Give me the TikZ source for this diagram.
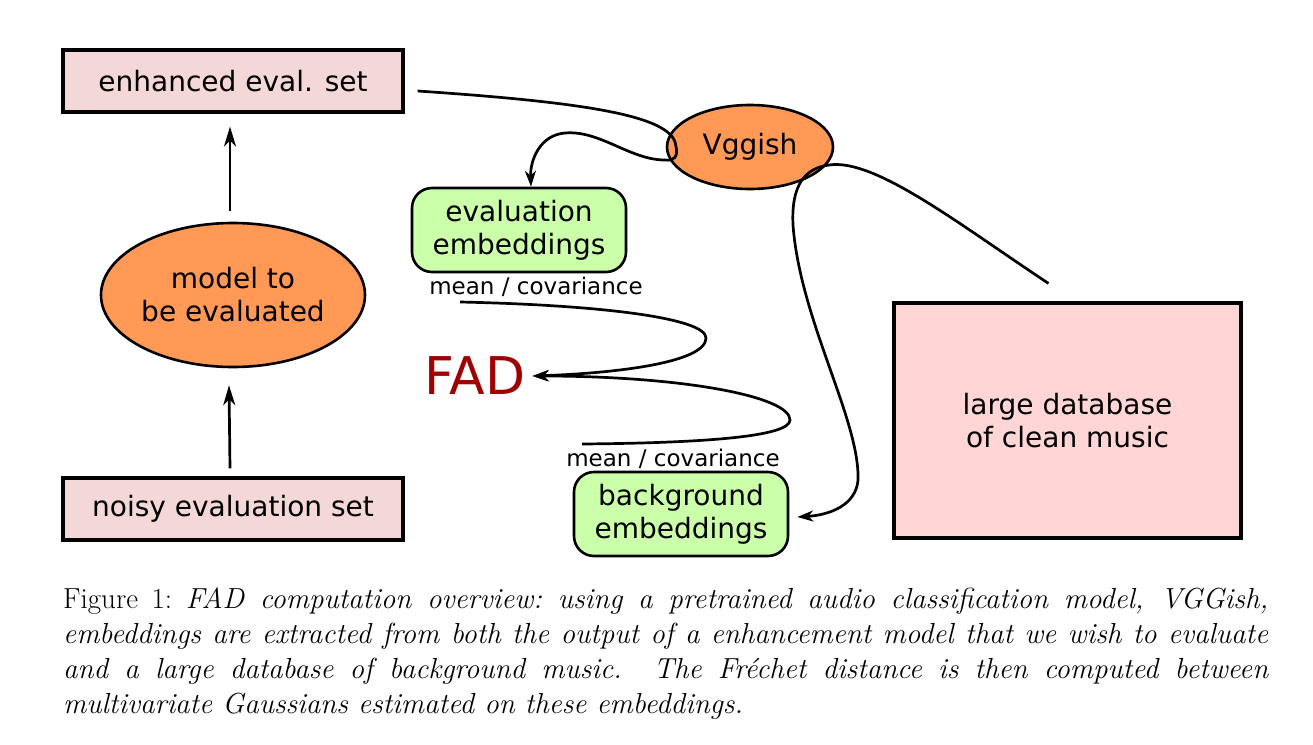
\documentclass[tikz,border=0pt]{standalone}
\usepackage{fontspec}
\newfontfamily\dv{DejaVu Sans}
\usetikzlibrary{shapes.geometric,arrows.meta}
\definecolor{boxpink}{HTML}{F4D7D7}
\definecolor{dbpink}{HTML}{FFD5D5}
\definecolor{orng}{HTML}{FF9955}
\definecolor{grn}{HTML}{CCFFAA}
\definecolor{fadred}{HTML}{A00000}
\begin{document}
\begin{tikzpicture}[x=1pt,y=-1pt,
  lbl/.style={font={\dv\fontsize{28}{33}\selectfont}, align=center, inner sep=0pt},
  setbox/.style={lbl, draw, line width=3.2pt, fill=boxpink, minimum width=340pt, minimum height=62pt},
  oval/.style={lbl, ellipse, draw, line width=2.6pt, fill=orng},
  emb/.style={lbl, draw, line width=2.6pt, fill=grn, rounded corners=20pt, minimum width=214pt, minimum height=84pt},
  dbbox/.style={lbl, draw, line width=3.2pt, fill=dbpink, minimum width=347pt, minimum height=235pt},
  small/.style={font={\dv\fontsize{23}{26}\selectfont}, inner sep=0pt},
  conn/.style={line width=2.7pt, -{Stealth[length=16pt,width=11pt,inset=5pt]}},
  upconn/.style={line width=2.7pt, -{Stealth[length=20pt,width=12pt,inset=6pt]}},
  wire/.style={line width=2.7pt}
]
\useasboundingbox (0,0) rectangle (1313,744);
\fill[white] (0,0) rectangle (1313,744);

\node[setbox] (enh) at (233,81) {enhanced eval. set};
\node[setbox] (noisy) at (233,509) {noisy evaluation set};
\node[oval, minimum width=264pt, minimum height=144pt] (model) at (233,295) {model to\\be evaluated};
\node[oval, minimum width=166pt, minimum height=84pt] (vgg) at (750,147) {Vggish};
\node[emb] (evalemb) at (519,230) {evaluation\\embeddings};
\node[emb] (bgemb) at (681,514) {background\\embeddings};
\node[dbbox] (db) at (1067.5,420.5) {large database\\of clean music};
\node[inner sep=0pt, text=fadred, font={\dv\fontsize{52}{60}\selectfont}] (fad) at (475,376) {FAD};
\node[small] (mc1) at (536,287) {mean / covariance};
\node[small] (mc2) at (673,459) {mean / covariance};
\coordinate (vj) at (829,165);

\draw[upconn] ([xshift=-3pt,yshift=11pt]model.north) -- ([xshift=-3pt,yshift=-13pt]enh.south);
\draw[upconn] ([xshift=-3pt,yshift=8pt]noisy.north) -- ([xshift=-4pt,yshift=-17pt]model.south);

\draw[wire] ([xshift=13pt,yshift=-10pt]enh.east) .. controls (580,102) and (672,115) .. ([xshift=10pt,yshift=2pt]vgg.west);
\draw[conn] ([xshift=10pt,yshift=2pt]vgg.west) .. controls (679,158) and (673,161) .. (665,160)
  .. controls (630,160) and (600,130) .. (565,133) .. controls (540,135) and (530,160) .. ([xshift=12pt]evalemb.north);

\draw[wire] ([xshift=-19pt,yshift=18pt]db.north) .. controls (960,225) and (875,158) .. (vj);
\draw[conn] (vj) .. controls (805,168) and (791,185) .. (793,225) .. controls (800,320) and (860,420) .. (858,480)
  .. controls (856,505) and (830,515) .. ([xshift=8pt,yshift=-3pt]bgemb.east);

\draw[conn] ([xshift=-76pt,yshift=-15pt]mc1.center) .. controls (600,305) and (706,318) .. (706,338)
  .. controls (706,362) and (620,373) .. ([xshift=7pt]fad.east);
\draw[conn] ([xshift=-91pt,yshift=15pt]mc2.center) .. controls (700,443) and (790,437) .. (790,420)
  .. controls (790,396) and (680,376) .. ([xshift=7pt]fad.east);

\node[anchor=north west, text width=1205pt, align=justify, inner sep=0pt,
  font={\fontsize{29}{35}\selectfont\sfcode`\:=1000 }] (cap) at (63,588)
  {Figure 1: \textit{FAD computation overview: using a pretrained audio classification model, VGGish,\linebreak
  embeddings are extracted from both the output of a enhancement model that we wish to evaluate\linebreak
  and a large database of background music.  The Fréchet distance is then computed between\linebreak
  multivariate Gaussians estimated on these embeddings.}};
\end{tikzpicture}
\end{document}
